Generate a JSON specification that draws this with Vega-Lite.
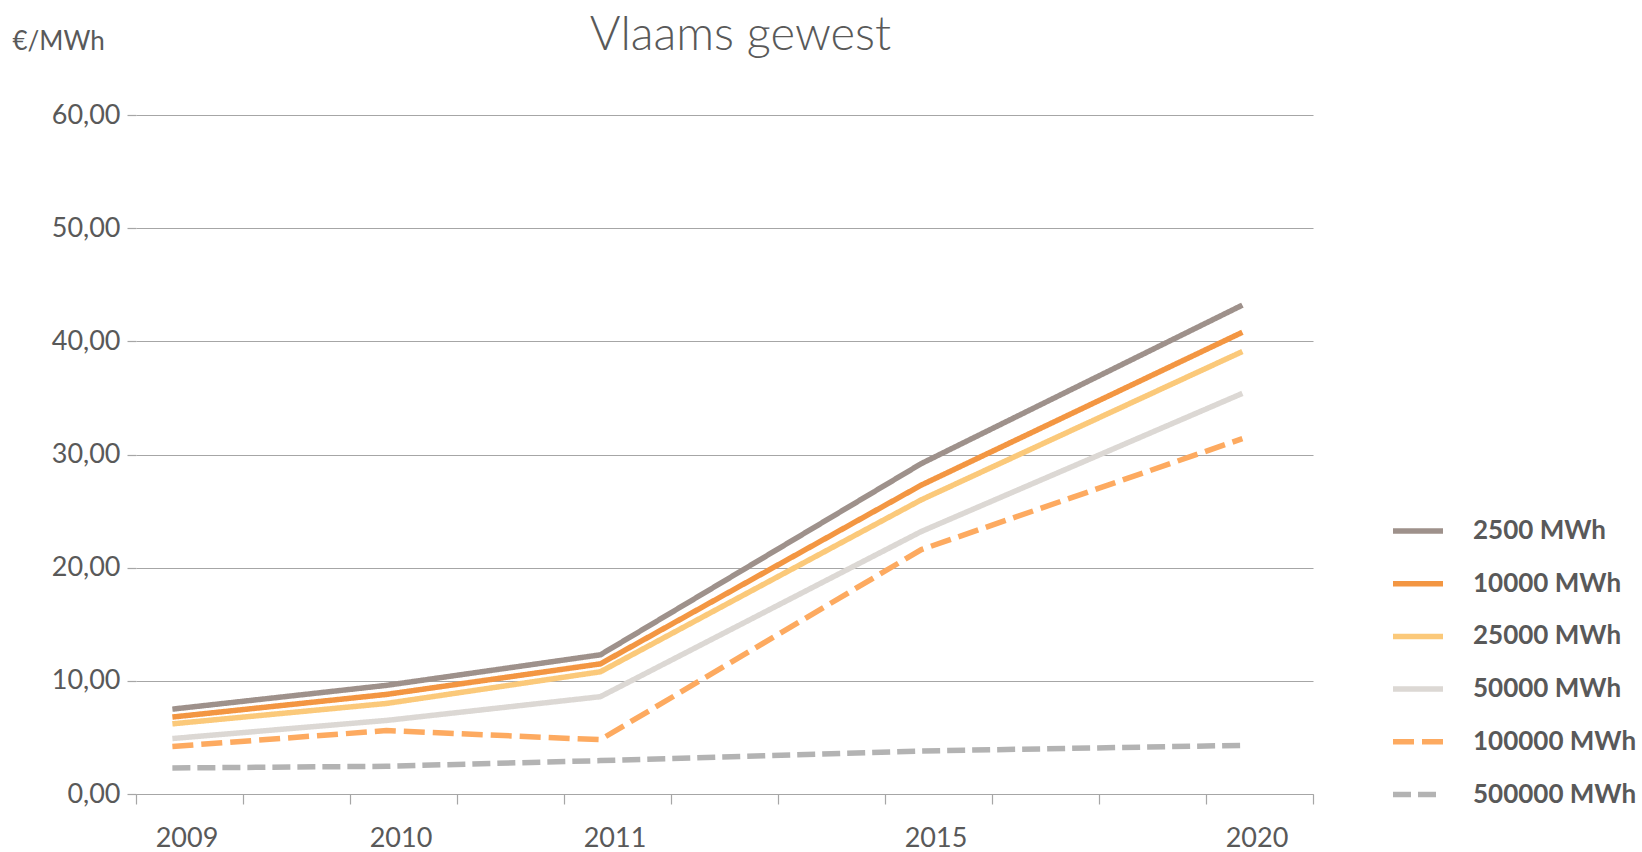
{
  "$schema": "https://vega.github.io/schema/vega-lite/v6.json",
  "width": 1177,
  "height": 679,
  "autosize": {"type": "none"},
  "padding": {"left": 136, "top": 115, "right": 329, "bottom": 58},
  "background": "white",
  "title": {
    "text": "Vlaams gewest",
    "anchor": "middle",
    "frame": "group",
    "dx": 16,
    "offset": 0,
    "dy": 32,
    "font": "Lato",
    "fontSize": 47,
    "fontWeight": 300,
    "color": "#595959"
  },
  "config": {
    "view": {"stroke": null},
    "font": "Lato"
  },
  "data": {
    "values": [
      {"year": "2009", "series": "2500 MWh", "value": 7.5},
      {"year": "2010", "series": "2500 MWh", "value": 9.6},
      {"year": "2011", "series": "2500 MWh", "value": 12.3},
      {"year": "2015", "series": "2500 MWh", "value": 29.2},
      {"year": "2020", "series": "2500 MWh", "value": 43.2},
      {"year": "2009", "series": "10000 MWh", "value": 6.8},
      {"year": "2010", "series": "10000 MWh", "value": 8.8},
      {"year": "2011", "series": "10000 MWh", "value": 11.5},
      {"year": "2015", "series": "10000 MWh", "value": 27.3},
      {"year": "2020", "series": "10000 MWh", "value": 40.8},
      {"year": "2009", "series": "25000 MWh", "value": 6.2},
      {"year": "2010", "series": "25000 MWh", "value": 8.0},
      {"year": "2011", "series": "25000 MWh", "value": 10.8},
      {"year": "2015", "series": "25000 MWh", "value": 26.0},
      {"year": "2020", "series": "25000 MWh", "value": 39.1},
      {"year": "2009", "series": "50000 MWh", "value": 4.9},
      {"year": "2010", "series": "50000 MWh", "value": 6.5},
      {"year": "2011", "series": "50000 MWh", "value": 8.6},
      {"year": "2015", "series": "50000 MWh", "value": 23.2},
      {"year": "2020", "series": "50000 MWh", "value": 35.4},
      {"year": "2009", "series": "100000 MWh", "value": 4.2},
      {"year": "2010", "series": "100000 MWh", "value": 5.6},
      {"year": "2011", "series": "100000 MWh", "value": 4.8},
      {"year": "2015", "series": "100000 MWh", "value": 21.6},
      {"year": "2020", "series": "100000 MWh", "value": 31.4},
      {"year": "2009", "series": "500000 MWh", "value": 2.3},
      {"year": "2010", "series": "500000 MWh", "value": 2.45},
      {"year": "2011", "series": "500000 MWh", "value": 2.95},
      {"year": "2015", "series": "500000 MWh", "value": 3.8},
      {"year": "2020", "series": "500000 MWh", "value": 4.3}
    ]
  },
  "mark": {"type": "line", "strokeWidth": 5.5, "strokeCap": "butt", "strokeJoin": "miter"},
  "encoding": {
    "x": {
      "field": "year",
      "type": "ordinal",
      "bandPosition": 0.34,
      "scale": {
        "type": "band",
        "domain": ["2009", "g1", "2010", "g2", "2011", "g3", "g4", "2015", "g5", "g6", "2020"],
        "paddingInner": 0,
        "paddingOuter": 0
      },
      "axis": {
        "title": null,
        "tickBand": "extent",
        "labelAngle": 0,
        "labelOffset": -3,
        "labelPadding": 21,
        "labelFontSize": 27,
        "labelColor": "#595959",
        "labelExpr": "test(/^20/, datum.value) ? datum.value : ''",
        "domainColor": "#A6A6A6",
        "domainWidth": 1.2,
        "tickColor": "#A6A6A6",
        "tickSize": 10,
        "tickWidth": 1.2,
        "grid": false
      }
    },
    "y": {
      "field": "value",
      "type": "quantitative",
      "scale": {"domain": [0, 60], "nice": false, "zero": true},
      "axis": {
        "values": [0, 10, 20, 30, 40, 50, 60],
        "labelExpr": "replace(format(datum.value, '.2f'), '.', ',')",
        "labelFontSize": 27,
        "labelColor": "#595959",
        "labelPadding": 7,
        "domain": false,
        "tickColor": "#A6A6A6",
        "tickSize": 9,
        "tickWidth": 1.2,
        "grid": true,
        "gridColor": "#A6A6A6",
        "gridWidth": 1.2,
        "title": "€/MWh",
        "titleAngle": 0,
        "titleX": -124,
        "titleY": -74,
        "titleAlign": "left",
        "titleBaseline": "middle",
        "titleFontSize": 26,
        "titleFontWeight": "normal",
        "titleColor": "#595959"
      }
    },
    "color": {
      "field": "series",
      "type": "nominal",
      "scale": {
        "domain": ["2500 MWh", "10000 MWh", "25000 MWh", "50000 MWh", "100000 MWh", "500000 MWh"],
        "range": ["#9E918B", "#F39642", "#FBC97A", "#DCD8D4", "#FDAA60", "#B3B3B3"]
      },
      "legend": {
        "title": null,
        "orient": "none",
        "legendX": 1254,
        "legendY": 388,
        "padding": 0,
        "symbolType": "stroke",
        "symbolSize": 2500,
        "symbolStrokeWidth": 5.5,
        "labelOffset": 27,
        "labelFontSize": 26,
        "labelFontWeight": "bold",
        "labelColor": "#595959",
        "labelFont": "Lato",
        "rowPadding": 11.7,
        "labelLimit": 300
      }
    },
    "strokeDash": {
      "field": "series",
      "type": "nominal",
      "scale": {
        "domain": ["2500 MWh", "10000 MWh", "25000 MWh", "50000 MWh", "100000 MWh", "500000 MWh"],
        "range": [[1, 0], [1, 0], [1, 0], [1, 0], [21, 8], [18, 7]]
      },
      "legend": null
    }
  }
}
